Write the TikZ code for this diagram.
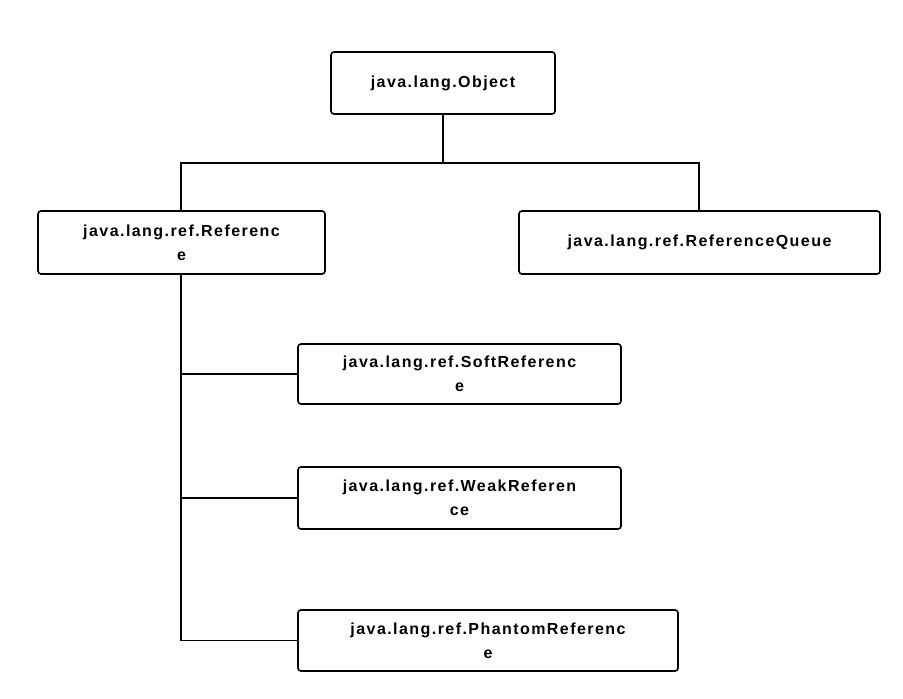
\documentclass[tikz,border=0pt]{standalone}
\usepackage{fontspec}
\setmainfont{Liberation Sans}
\newfontfamily\boxfont[LetterSpace=9]{Liberation Sans}
\begin{document}
\begin{tikzpicture}[x=1pt,y=-1pt,
  box/.style={draw,line width=1.6pt,rounded corners=3pt,font=\boxfont\bfseries\fontsize{16}{24}\selectfont,align=center,inner sep=0pt},
  ln/.style={line width=1.6pt}]
\useasboundingbox (0,0) rectangle (903,699);
\newcommand\bx[6]{\node[box,minimum width=#4-#2,minimum height=#5-#3] (#1) at ({(#2+#4)/2},{(#3+#5)/2}) {#6};}
\bx{obj}{331}{52}{555}{114}{java.lang.Object}
\bx{ref}{38}{211}{325}{274}{java.lang.ref.Referenc\\e}
\bx{que}{519}{211}{880}{274}{java.lang.ref.ReferenceQueue}
\bx{soft}{298}{344}{621}{404}{java.lang.ref.SoftReferenc\\e}
\bx{weak}{298}{467}{621}{529}{java.lang.ref.WeakReferen\\ce}
\bx{ph}{298}{610}{678}{671}{java.lang.ref.PhantomReferenc\\e}
\coordinate (j) at (443,163);
\coordinate (t) at (181,640.5);
\draw[ln] (obj.south) -- (j);
\draw[ln] (ref.north -| 181,0) |- (j) -| (que.north -| 699,0);
\draw[ln] (ref.south -| 181,0) -- (t) -- (ph.west);
\draw[ln] (soft.west) -- (soft.west -| t);
\draw[ln] (weak.west) -- (weak.west -| t);
\end{tikzpicture}
\end{document}
